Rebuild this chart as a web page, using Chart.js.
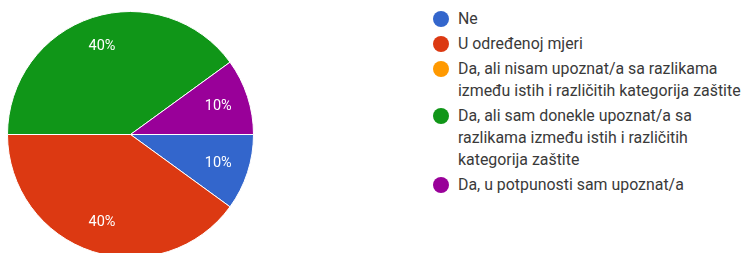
<!DOCTYPE html>
<html>
<head>
<meta charset="utf-8">
<script src="https://cdn.jsdelivr.net/npm/chart.js@4.4.1/dist/chart.umd.min.js"></script>
<style>
  html, body { margin: 0; padding: 0; background: #ffffff; width: 747px; height: 253px; overflow: hidden; position: relative; }
  #pieBox { position: absolute; left: 7px; top: 11px; width: 247px; height: 247px; }
  #legend { position: absolute; left: 431px; top: 8px; margin: 0; padding: 0; list-style: none;
            font-family: Roboto, "Liberation Sans", Arial, sans-serif; font-size: 15.9px; color: #3a3a3a; white-space: nowrap; }
  #legend li { position: relative; padding-left: 27px; line-height: 22px; margin-bottom: 3px; }
  #legend li span.dot { position: absolute; left: 2px; top: 3px; width: 16px; height: 16px; border-radius: 50%; }
</style>
</head>
<body>
<div id="pieBox"><canvas id="c"></canvas></div>
<ul id="legend"></ul>
<script>
const categories = [
  ["Ne"],
  ["U određenoj mjeri"],
  ["Da, ali nisam upoznat/a sa razlikama", "između istih i različitih kategorija zaštite"],
  ["Da, ali sam donekle upoznat/a sa", "razlikama između istih i različitih", "kategorija zaštite"],
  ["Da, u potpunosti sam upoznat/a"]
];
const values = [10, 40, 0, 40, 10];
const colors = ["#3366cc", "#dc3912", "#ff9900", "#109618", "#990099"];

const sliceLabels = {
  id: 'sliceLabels',
  afterDatasetsDraw(chart) {
    const ctx = chart.ctx;
    const meta = chart.getDatasetMeta(0);
    const data = chart.data.datasets[0].data;
    const total = data.reduce((a, b) => a + b, 0);
    ctx.save();
    ctx.fillStyle = '#ffffff';
    ctx.font = '14.5px Roboto, "Liberation Sans", Arial, sans-serif';
    ctx.textAlign = 'center';
    ctx.textBaseline = 'middle';
    meta.data.forEach((arc, i) => {
      if (!data[i]) return;
      const p = arc.getProps(['x', 'y', 'startAngle', 'endAngle', 'outerRadius'], true);
      const mid = (p.startAngle + p.endAngle) / 2;
      const r = p.outerRadius * 0.75;
      const pct = Math.round(data[i] / total * 100) + '%';
      ctx.fillText(pct, p.x + Math.cos(mid) * r, p.y + Math.sin(mid) * r);
    });
    ctx.restore();
  }
};

new Chart(document.getElementById('c'), {
  type: 'pie',
  data: {
    labels: categories,
    datasets: [{
      data: values,
      backgroundColor: colors,
      borderColor: '#ffffff',
      borderWidth: 1
    }]
  },
  options: {
    responsive: true,
    maintainAspectRatio: false,
    animation: false,
    rotation: 90,
    layout: { padding: 0 },
    plugins: {
      legend: { display: false },
      tooltip: { enabled: false }
    }
  },
  plugins: [sliceLabels]
});

const legend = document.getElementById('legend');
categories.forEach((lines, i) => {
  const li = document.createElement('li');
  const dot = document.createElement('span');
  dot.className = 'dot';
  dot.style.background = colors[i];
  li.appendChild(dot);
  lines.forEach((ln, k) => {
    if (k) li.appendChild(document.createElement('br'));
    li.appendChild(document.createTextNode(ln));
  });
  legend.appendChild(li);
});
</script>
</body>
</html>
